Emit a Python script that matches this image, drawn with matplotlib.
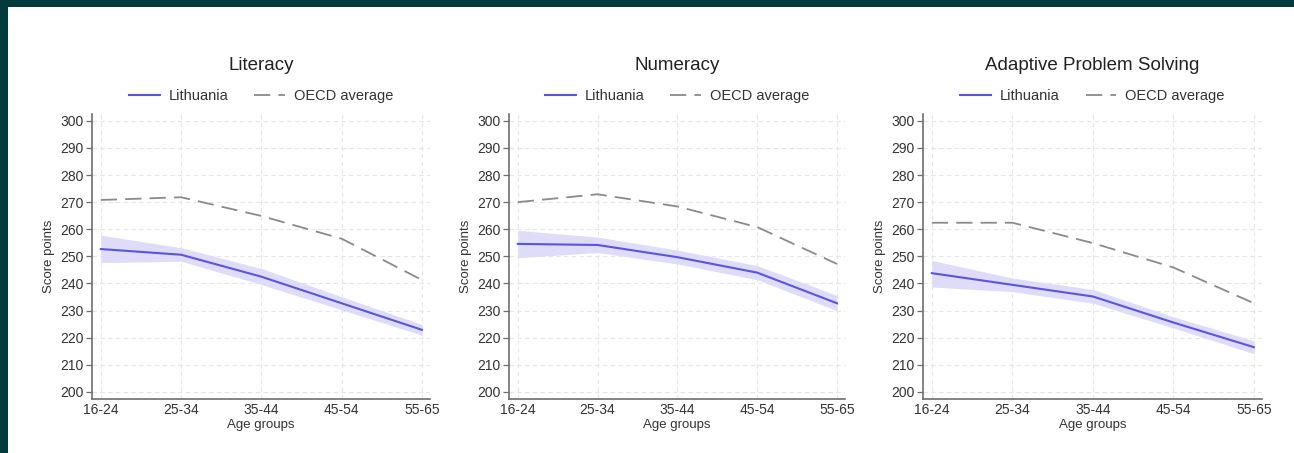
import matplotlib
matplotlib.use("Agg")
import matplotlib.pyplot as plt
from matplotlib.patches import Rectangle

plt.rcParams['font.family'] = ['Liberation Sans', 'DejaVu Sans']

age_groups = ["16-24", "25-34", "35-44", "45-54", "55-65"]
titles = ["Literacy", "Numeracy", "Adaptive Problem Solving"]

lit_ltu = [252.7, 250.6, 242.5, 232.7, 222.9]
lit_ltu_lo = [247.7, 248.2, 239.6, 230.3, 220.9]
lit_ltu_hi = [257.8, 253.2, 245.5, 235.1, 224.9]
lit_oecd = [270.8, 271.8, 264.9, 256.5, 241.3]

num_ltu = [254.6, 254.2, 249.7, 244.0, 232.7]
num_ltu_lo = [249.5, 251.4, 247.2, 241.4, 230.0]
num_ltu_hi = [259.6, 257.1, 252.3, 246.6, 235.6]
num_oecd = [270.0, 272.9, 268.4, 260.8, 247.2]

aps_ltu = [243.8, 239.5, 235.2, 225.6, 216.5]
aps_ltu_lo = [238.7, 237.0, 232.7, 223.6, 214.1]
aps_ltu_hi = [248.5, 242.0, 237.8, 227.7, 218.9]
aps_oecd = [262.4, 262.4, 254.9, 245.9, 232.7]

series = [
    (lit_ltu, lit_ltu_lo, lit_ltu_hi, lit_oecd),
    (num_ltu, num_ltu_lo, num_ltu_hi, num_oecd),
    (aps_ltu, aps_ltu_lo, aps_ltu_hi, aps_oecd),
]
yticks = list(range(200, 301, 10))

W, H = 1294, 453
fig = plt.figure(figsize=(W / 100, H / 100), dpi=100)
fig.patch.set_facecolor("#023b3b")
fig.patches.append(Rectangle((8 / W, 0), 1 - 8 / W, 1 - 7 / H, transform=fig.transFigure,
                             facecolor="white", edgecolor="none", zorder=-10))

lefts = [92, 509, 923]
rights = [430, 845, 1262]
bottom_px, top_px = 399, 114

line_col = "#5a55e0"
fill_col = "#dedcf8"
oecd_col = "#8a8a8a"
spine_col = "#6e6e6e"
text_col = "#333333"

x = list(range(len(age_groups)))
for i, (ltu, lo, hi, oecd) in enumerate(series):
    ax = fig.add_axes([lefts[i] / W, (H - bottom_px) / H, (rights[i] - lefts[i]) / W,
                       (bottom_px - top_px) / H])
    ax.set_zorder(1)
    ax.set_facecolor("none")
    ax.fill_between(x, lo, hi, color=fill_col, linewidth=0, zorder=2)
    ax.plot(x, ltu, color=line_col, lw=1.5, zorder=3, label="Lithuania")
    ax.plot(x, oecd, color=oecd_col, lw=1.3, dashes=(9, 4.5), zorder=3, label="OECD average")
    ax.set_xlim(-0.11, 4.1)
    ax.set_ylim(197.4, 302.5)
    ax.set_xticks(x)
    ax.set_xticklabels(age_groups)
    ax.set_yticks(yticks)
    ax.grid(True, color="#e6e6e6", linestyle=(0, (4, 3)), lw=0.8, zorder=1)
    for s in ["top", "right"]:
        ax.spines[s].set_visible(False)
    for s in ["left", "bottom"]:
        ax.spines[s].set_color(spine_col)
        ax.spines[s].set_linewidth(1.2)
    ax.tick_params(axis="y", length=4, width=0.9, color=spine_col, labelsize=10,
                   labelcolor=text_col, pad=2)
    ax.tick_params(axis="x", length=0, labelsize=10, labelcolor=text_col, pad=3)
    ax.set_xlabel("Age groups", fontsize=9.5, color=text_col, labelpad=1)
    ax.set_ylabel("Score points", fontsize=9.5, color=text_col, labelpad=4)
    cx = (lefts[i] + rights[i]) / 2 / W
    fig.text(cx, 1 - 66 / H, titles[i], ha="center", va="center", fontsize=13.5, color="#222222")
    leg = ax.legend(loc="center", bbox_to_anchor=(0.5, (bottom_px - 96) / (bottom_px - top_px)),
                    ncol=2, frameon=False, fontsize=10.5, handlelength=2.1, columnspacing=1.8,
                    handletextpad=0.6, borderaxespad=0)
    for t in leg.get_texts():
        t.set_color(text_col)

fig.savefig("out.png", dpi=100, facecolor=fig.get_facecolor())
